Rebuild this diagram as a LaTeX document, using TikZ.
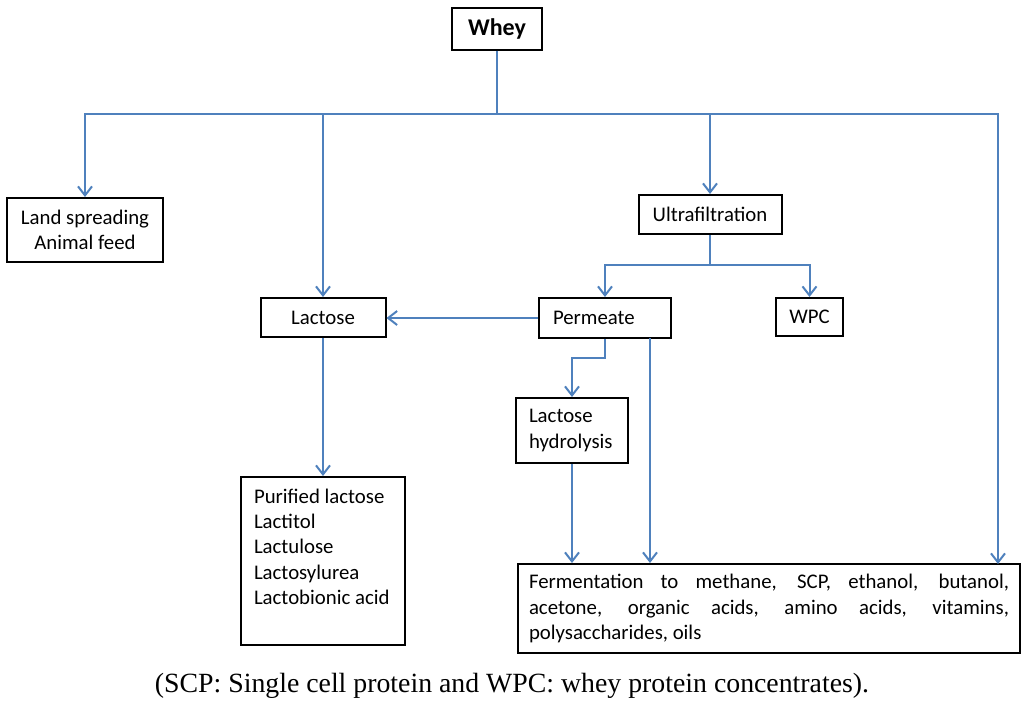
\documentclass[tikz,border=0pt]{standalone}
\usepackage{fontspec}
\setmainfont{Carlito}
\newfontfamily\captionfont{Liberation Serif}
\usetikzlibrary{positioning,calc,arrows.meta}
\definecolor{flowblue}{RGB}{79,129,189}

\begin{document}
\begin{tikzpicture}[x=0.5pt, y=-0.5pt,
    font=\fontsize{10.4}{12.6}\selectfont,
    box/.style={draw=black, line width=1pt, inner sep=0pt, align=center},
    flow/.style={draw=flowblue, line width=1pt},
    arr/.style={flow, -{Straight Barb[length=4.5pt, width=7pt]}}]
          \useasboundingbox (0, 0) rectangle (1024, 708);%
          \node [box, minimum width=45pt, minimum height=21pt,
            font=\fontsize{12}{14}\selectfont\bfseries] (whey) at (497, 28.5) {Whey};%
          \node [box, minimum width=78pt, minimum height=32pt] (land) at (85, 230) {%
            Land spreading\\Animal feed};%
          \node [box, minimum width=62.5pt, minimum height=19.5pt] (lactose) at (323, 317.5) {Lactose};%
          \node [box, minimum width=71.5pt, minimum height=19.5pt] (ultra) at (710, 214.5) {Ultrafiltration};%
          \node [box, minimum height=20pt, inner xsep=7pt, text width=52pt, align=left] (permeate) at (605, 318) {Permeate};%
          \node [box, minimum width=33.5pt, minimum height=19pt] (wpc) at (809.5, 317) {WPC};%
          \node [box, minimum height=32.5pt, inner xsep=6.5pt, text width=43pt, align=left] (hydro) at (572, 430.5) {%
            Lactose\\hydrolysis};%
          \node [box, inner xsep=6.5pt] (purified) at (323, 561) {%
            \parbox[c][84pt][t]{69pt}{\vspace{6pt}%
            Purified lactose\\Lactitol\\Lactulose\\Lactosylurea\\Lactobionic acid}};%
          \node [box, minimum height=44.5pt, inner xsep=5.5pt, text width=240pt, align=justify] (ferm) at (769, 608.5) {%
            Fermentation to methane, SCP, ethanol, butanol,\linebreak
            acetone, organic acids, amino acids, vitamins,\linebreak
            polysaccharides, oils};%
          \node [font=\captionfont\fontsize{13.9}{16}\selectfont] (caption) at (512, 686) {%
            (SCP: Single cell protein and WPC: whey protein concentrates).};%
          % junctions
          \coordinate (bus) at (497, 114);%
          \coordinate (uf) at (710, 265);%
          \coordinate (pl) at (650, 338);%
          \coordinate (fr) at (998, 564);%
          % connectors
          \draw [flow] (whey.south) -- (bus);%
          \draw [arr] (bus) -| (land.north);%
          \draw [arr] (bus) -| (lactose.north);%
          \draw [arr] (bus) -| (ultra.north);%
          \draw [arr] (bus) -| (fr);%
          \draw [flow] (ultra.south) -- (uf);%
          \draw [arr] (uf) -| (permeate.north);%
          \draw [arr] (uf) -| (wpc.north);%
          \draw [arr] (permeate.west) -- (permeate.west -| lactose.east);%
          \draw [arr] (permeate.south) -- ++(0, 19) -| (hydro.north);%
          \draw [arr] (hydro.south) -- (hydro.south |- ferm.north);%
          \draw [arr] (pl) -- (pl |- ferm.north);%
          \draw [arr] (lactose.south) -- (purified.north);%
        \end{tikzpicture}
\end{document}
